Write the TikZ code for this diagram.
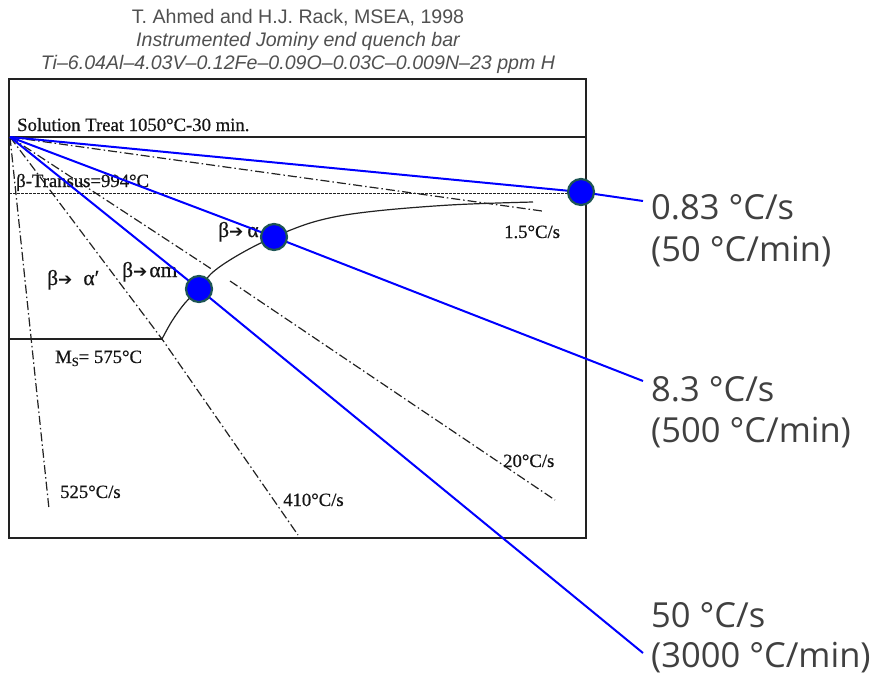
\documentclass[tikz,border=0pt]{standalone}
\usepackage{fontspec}
\setmainfont{Liberation Serif}
\newfontfamily\scanfont{Liberation Serif}[FakeBold=0.6]
\newfontfamily\titlefont{Liberation Sans}
\newfontfamily\labfont{Open Sans}
\newfontfamily\arrowfont{DejaVu Sans}
\definecolor{scanink}{HTML}{151515}
\definecolor{scangray}{HTML}{222222}
\definecolor{ttlgray}{HTML}{505050}
\definecolor{labgray}{HTML}{404040}
\definecolor{dotedge}{HTML}{1E5555}
\newcommand{\heavyarrow}{{\arrowfont\fontsize{17}{17}\selectfont ➔}}
\begin{document}
\begin{tikzpicture}[x=1pt,y=-1pt,
  scan/.style={draw=scangray, line width=1.4pt},
  dashdot/.style={draw=scangray, line width=1.2pt, dash pattern=on 9pt off 3pt on 1.5pt off 3pt},
  dotline/.style={draw=scangray, line width=1pt, dash pattern=on 2.5pt off 1.5pt},
  rate/.style={draw=blue, line width=2pt},
  dotmark/.style={circle, fill=blue, draw=dotedge, line width=2.2pt, minimum size=26pt, inner sep=0pt},
  scantxt/.style={font=\scanfont\fontsize{18.7}{20}\selectfont, text=scanink, inner sep=0pt, anchor=base west},
  greektxt/.style={scantxt, font=\scanfont\fontsize{21.5}{22}\selectfont},
  ttl/.style={font=\titlefont\fontsize{19.6}{23}\selectfont, text=ttlgray, inner sep=0pt, anchor=base},
  lab/.style={font=\labfont\fontsize{34.5}{41}\selectfont, text=labgray, inner sep=0pt, anchor=base west}]
\useasboundingbox (0,0) rectangle (881,675);

% titles
\node[ttl] (t1) at (298,23) {T. Ahmed and H.J. Rack, MSEA, 1998};
\node[ttl] (t2) at (298,46) {\itshape Instrumented Jominy end quench bar};
\node[ttl] (t3) at (298,69) {\itshape Ti–6.04Al–4.03V–0.12Fe–0.09O–0.03C–0.009N–23 ppm H};

% frame
\draw[scan] (9,79) rectangle (586,538);
\coordinate (O) at (10,137);
\coordinate (SL) at (9,137);
\coordinate (SR) at (586,137);
\draw[scan] (SL) -- (SR);
\coordinate (TL) at (9,193);
\coordinate (TRr) at (586,193);
\draw[dotline] (TL) -- (TRr);
\coordinate (MsL) at (9,339);
\coordinate (MsC) at (162,339);
\draw[scan] (MsL) -- (MsC);

% cooling curves (dash-dot)
\coordinate (E525) at (49,509);
\coordinate (E410) at (298,535);
\coordinate (A20) at (213,270);
\coordinate (B20) at (230,281);
\coordinate (E20) at (555,500);
\coordinate (E15) at (542,211);
\draw[dashdot] (O) -- (E525);
\draw[dashdot] (O) -- (MsC) -- (E410);
\draw[dashdot] (O) -- (A20);
\draw[dashdot] (B20) -- (E20);
\draw[dashdot] (O) -- (E15);

% transformation start curve
\draw[scan, line width=1.2pt] plot[smooth, tension=0.6] coordinates {(162,339) (172,321) (185,303) (199,289) (213,272) (240,254) (274,237) (317,221) (367,212) (450,205) (533,202)};

% scanned labels
\node[scantxt] (sol) at (17,131) {Solution Treat 1050°C-30 min.};
\node[scantxt] (tra) at (16,187) {β-Transus=994°C};
\node[greektxt] (ba1) at (47,285) {β\heavyarrow\hspace{11pt}α′};
\node[greektxt] (bam) at (122,277) {β\heavyarrow\hspace{2pt}αm};
\node[greektxt] (bas) at (218,237) {β\heavyarrow\hspace{4pt}α};
\node[scantxt] (ms) at (55,363) {M{\fontsize{12.5}{12}\selectfont\raisebox{-3pt}{S}}= 575°C};
\node[scantxt] (r15) at (504,238) {1.5°C/s};
\node[scantxt] (r20) at (503,467) {20°C/s};
\node[scantxt] (r525) at (60,498) {525°C/s};
\node[scantxt] (r410) at (283,506) {410°C/s};

% dot positions
\coordinate (D1) at (581,192);
\coordinate (D2) at (274,237);
\coordinate (D3) at (199,289);

% right labels
\node[lab] (l1a) at (651,219) {0.83 °C/s};
\node[lab] (l1b) at (651,261) {(50 °C/min)};
\node[lab] (l2a) at (651,401) {8.3 °C/s};
\node[lab] (l2b) at (651,442) {(500 °C/min)};
\node[lab] (l3a) at (651,627) {50 °C/s};
\node[lab] (l3b) at (651,667) {(3000 °C/min)};
\coordinate (E1) at (643,201);
\coordinate (E2) at (643,381);
\coordinate (E3) at (643,653);

% blue rate lines
\draw[rate] (O) -- (D1) -- (E1);
\draw[rate] (O) -- (D2) -- (E2);
\draw[rate] (O) -- (D3) -- (E3);

\node[dotmark] (M1) at (D1) {};
\node[dotmark] (M2) at (D2) {};
\node[dotmark] (M3) at (D3) {};
\end{tikzpicture}
\end{document}
